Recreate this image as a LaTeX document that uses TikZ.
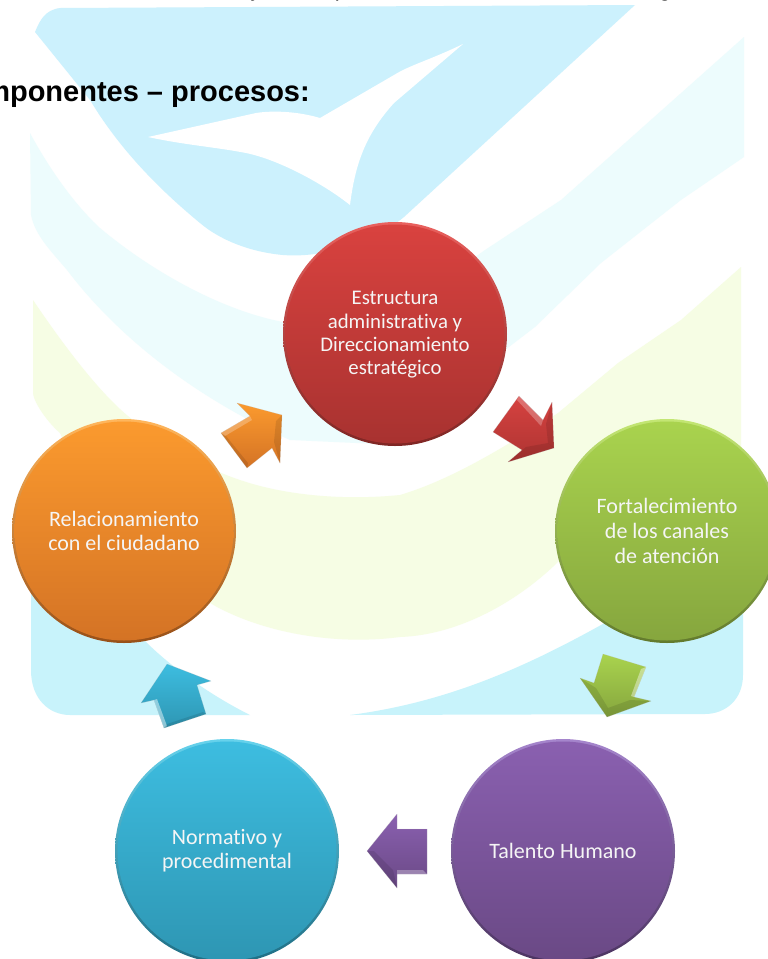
\documentclass[tikz,border=0pt]{standalone}
\usepackage{fontspec}
\setmainfont{Carlito}[Ligatures=NoCommon,Contextuals=NoAlternate]
\newfontfamily\titlefont{Liberation Sans}
\definecolor{bgblue}{HTML}{CCF1FD}
\definecolor{bgcyan}{HTML}{EDFCFD}
\definecolor{bgteal}{HTML}{C8F3FB}
\definecolor{bgyellow}{HTML}{F6FDE4}
\tikzset{
  x=1pt,y=-1pt,
  bub/.style={circle,minimum size=218pt,inner sep=0pt,align=center,text=white!96!black,
    font=\fontsize{22}{25}\selectfont},
  bubsmall/.style={bub,font=\fontsize{20.8}{23.4}\selectfont},
  rim/.style={circle,minimum size=224pt,inner sep=0pt},
  blockarrow/.style={line join=round,draw=black!25,draw opacity=.4,line width=.4pt},
  title/.style={font=\titlefont\bfseries\fontsize{29}{32}\selectfont,text=black,inner sep=0pt},
  cutoff/.style={font=\titlefont\fontsize{22}{24}\selectfont,text=black,inner sep=0pt},
  shine/.style={fill=white,fill opacity=.25},
  shadowy/.style={fill=black,fill opacity=.1}
}
\begin{document}
\begin{tikzpicture}
\useasboundingbox (0,0) rectangle (768,959);
\fill[white] (0,0) rectangle (768,959);
% ---------- watermark background
\fill[bgblue] (35,32) .. controls (40,20) and (45,10) .. (60,8) -- (635,5) -- (404,217)
  .. controls (370,245) and (320,258) .. (283,255)
  .. controls (250,252) and (220,240) .. (200,223)
  .. controls (160,190) and (120,150) .. (90,100) -- cycle;
\fill[white] (463,44) .. controls (430,60) and (410,65) .. (394,75) -- (320,118)
  .. controls (300,112) and (275,110) .. (256,113) -- (148,137)
  .. controls (185,145) and (215,147) .. (246,153)
  .. controls (280,160) and (325,185) .. (350,205)
  .. controls (355,165) and (365,135) .. (394,103) -- cycle;
\fill[bgcyan] (30,133) .. controls (50,170) and (75,205) .. (100,228)
  .. controls (150,270) and (220,310) .. (283,322)
  .. controls (350,330) and (430,290) .. (485,250)
  -- (561,200) -- (744,37) -- (744,157) -- (681,200) -- (601,263) -- (535,327) -- (505,350)
  -- (400,445) -- (290,440)
  .. controls (200,400) and (120,340) .. (67,270)
  .. controls (50,250) and (35,235) .. (31,215) -- cycle;
\fill[bgyellow] (33,300) .. controls (60,340) and (100,395) .. (133,420)
  .. controls (170,450) and (210,470) .. (240,480)
  .. controls (290,497) and (350,500) .. (400,495)
  .. controls (450,480) and (500,450) .. (558,413)
  -- (618,363) -- (681,320) -- (741,267) -- (741,413) -- (741,520) -- (560,560)
  .. controls (520,600) and (460,635) .. (400,637)
  .. controls (340,645) and (270,635) .. (217,607)
  .. controls (150,570) and (80,480) .. (60,433)
  .. controls (45,420) and (33,400) .. (33,393) -- cycle;
\fill[bgteal] (31,580) -- (31,670) .. controls (31,700) and (50,715) .. (70,715)
  -- (250,715) .. controls (220,700) and (180,675) .. (147,643) -- (110,600) -- cycle;
\fill[bgteal] (350,715) .. controls (450,702) and (530,665) .. (610,620) -- (650,600) -- (743,600) -- (743,675)
  .. controls (743,700) and (725,714) .. (705,714) -- cycle;
\fill[white] (0,0) rectangle (768,4);
% ---------- text cut off at the top and the title
\node[cutoff,anchor=base] (cuty) at (256,-3.5) {y};
\node[cutoff,anchor=base] (cutp) at (341,-3.5) {p};
\node[cutoff,anchor=base] (cutg) at (665,-3.5) {g};
\node[title,anchor=base east] (heading) at (310,101) {mponentes – procesos:};
% ---------- bubbles
\foreach \nm/\cx/\cy/\rt/\rb/\ct/\cb in {
  r/395/334/E9615E/7F2624/D9423F/A83230,
  g/667/531/C3E673/627A2D/A9D34E/86A63E,
  p/563/851/A585CC/4B3360/8A60B0/6A4985,
  b/227/851/66D2EC/1F6E84/3DBDE0/2E96B3,
  o/124/531/FFB65C/985018/FB9A2E/D47325}{
  \definecolor{rt}{HTML}{\rt}\definecolor{rb}{HTML}{\rb}
  \definecolor{ct}{HTML}{\ct}\definecolor{cb}{HTML}{\cb}
  \node[rim,top color=rt,middle color=ct!50!cb,bottom color=rb] (rim\nm) at (\cx,\cy) {};
  \node[circle,minimum size=219pt,inner sep=0pt,top color=ct,bottom color=cb] (core\nm) at (\cx,\cy) {};
}
\node[bubsmall] (estructura) at (395,335) {Estructura\\administrativa y\\Direccionamiento\\estratégico};
\node[bub] (fortalecimiento) at (667,531) {Fortalecimiento\\de los canales\\de atención};
\node[bub] (talento) at (563,851) {Talento Humano};
\node[bub,font=\fontsize{22}{24}\selectfont] (normativo) at (227,851) {Normativo y\\procedimental};
\node[bub,font=\fontsize{22}{24}\selectfont] (relacionamiento) at (124,531) {Relacionamiento\\con el ciudadano};
% ---------- block arrows
\definecolor{a1}{HTML}{D64240}\definecolor{a2}{HTML}{AE3432}
\shade[top color=a1,bottom color=a2,blockarrow] (554,448) -- (552,402) -- (543,420) -- (519,396) -- (493,432) -- (522,450) -- (508,462) -- cycle;
\fill[shine] (519,396) -- (543,420) -- (541,426) -- (517,400) -- cycle;
\fill[shadowy] (554,448) -- (552,402) -- (546,424) -- (548,443) -- cycle;
\fill[shadowy] (554,448) -- (508,462) -- (526,447) -- (548,443) -- cycle;
\definecolor{a1}{HTML}{A9D34E}\definecolor{a2}{HTML}{86A63E}
\shade[top color=a1,bottom color=a2,blockarrow] (607,717) -- (651,701) -- (634,697) -- (646,667) -- (603,654) -- (594,683) -- (580,678) -- cycle;
\fill[white,fill opacity=.4] (646,667) -- (634,697) -- (631,696) -- (641,669) -- cycle;
\fill[shadowy] (607,717) -- (580,678) -- (596,688) -- (608,708) -- cycle;
\fill[shadowy] (607,717) -- (651,701) -- (630,700) -- (608,708) -- cycle;
\definecolor{a1}{HTML}{8A60B0}\definecolor{a2}{HTML}{6A4985}
\shade[top color=a1,bottom color=a2,blockarrow] (367,851) -- (397,814) -- (397,829) -- (427,829) -- (427,874) -- (397,874) -- (397,888) -- cycle;
\fill[white,fill opacity=.3] (427,874) -- (397,874) -- (397,870) -- (423,870) -- cycle;
\fill[shadowy] (367,851) -- (397,888) -- (393,870) -- (374,851) -- cycle;
\definecolor{a1}{HTML}{3DBDE0}\definecolor{a2}{HTML}{2E96B3}
\shade[top color=a1,bottom color=a2,blockarrow] (167,664) -- (211,681) -- (197,685) -- (206,714) -- (164,728) -- (154,700) -- (141,703) -- cycle;
\fill[white,fill opacity=.45] (164,728) -- (154,700) -- (157,699) -- (167,726) -- cycle;
\fill[shadowy] (206,714) -- (164,728) -- (167,724) -- (203,712) -- cycle;
\definecolor{a1}{HTML}{FB9A2E}\definecolor{a2}{HTML}{D47325}
\shade[top color=a1,bottom color=a2,blockarrow] (282,415) -- (237,403) -- (250,416) -- (221,433) -- (247,468) -- (272,448) -- (280,463) -- cycle;
\fill[shine] (250,416) -- (221,433) -- (225,436) -- (252,420) -- cycle;
\fill[shadowy] (282,415) -- (280,463) -- (274,442) -- (276,421) -- cycle;
\fill[shadowy] (221,433) -- (247,468) -- (248,463) -- (226,436) -- cycle;
\end{tikzpicture}
\end{document}
